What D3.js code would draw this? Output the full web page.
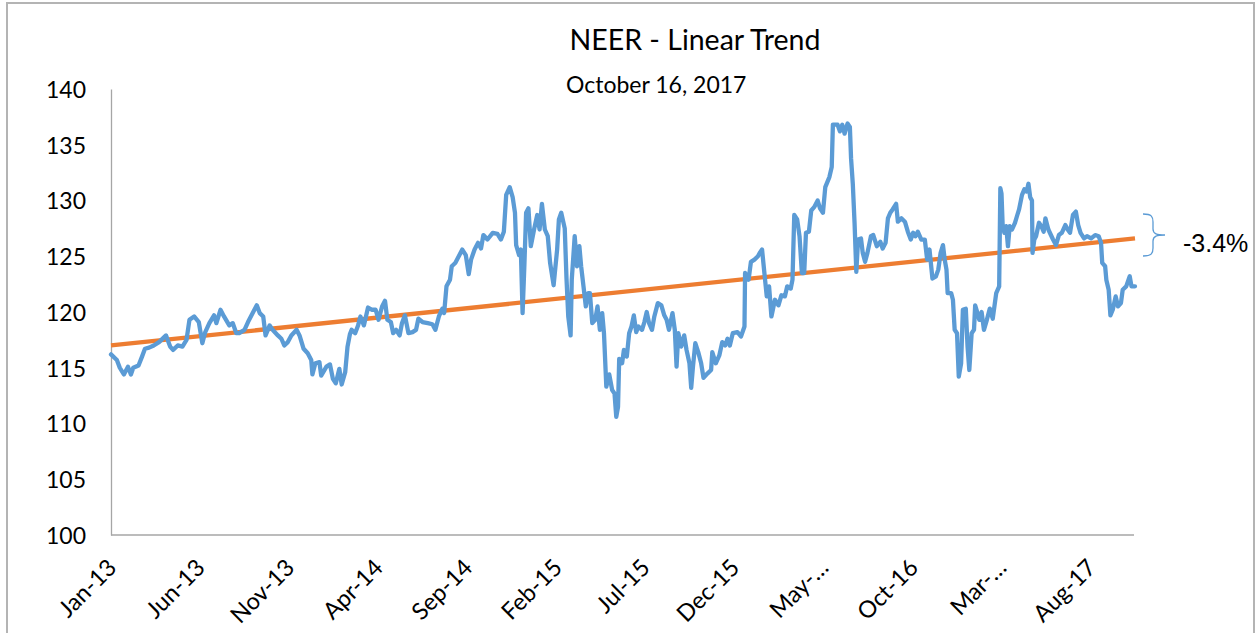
<!DOCTYPE html>
<html><head><meta charset="utf-8">
<script src="https://cdn.jsdelivr.net/npm/d3@7"></script>
<style>body{margin:0;background:#fff} svg{display:block}</style>
</head><body><svg id="chart" width="1260" height="633"></svg>
<script>
const chartTitle = "NEER - Linear Trend";
const chartSubtitle = "October 16, 2017";
const yTicks = [100, 105, 110, 115, 120, 125, 130, 135, 140];
const xTickDates = ["2013-01-01","2013-06-01","2013-11-01","2014-04-01","2014-09-01","2015-02-01","2015-07-01","2015-12-01","2016-05-01","2016-10-01","2017-03-01","2017-08-01"];
const xTickLabels = ["Jan-13","Jun-13","Nov-13","Apr-14","Sep-14","Feb-15","Jul-15","Dec-15","May-…","Oct-16","Mar-…","Aug-17"];

const dates = [
"2013-01-01","2013-01-11","2013-01-16","2013-01-23","2013-01-30","2013-02-04","2013-02-08","2013-02-17","2013-02-23","2013-02-28",
"2013-03-07","2013-03-15","2013-03-24","2013-04-05","2013-04-12","2013-04-17","2013-04-25","2013-05-03","2013-05-10","2013-05-15",
"2013-05-23","2013-05-31","2013-06-06","2013-06-11","2013-06-18","2013-06-26","2013-06-30","2013-07-07","2013-07-13","2013-07-22",
"2013-07-28","2013-08-03","2013-08-08","2013-08-17","2013-08-23","2013-08-31","2013-09-07","2013-09-12","2013-09-18","2013-09-22",
"2013-09-29","2013-10-04","2013-10-13","2013-10-19","2013-10-24","2013-10-30","2013-11-05","2013-11-14","2013-11-19","2013-11-26",
"2013-12-03","2013-12-09","2013-12-11","2013-12-16","2013-12-23","2013-12-26","2014-01-04","2014-01-10","2014-01-15","2014-01-20",
"2014-01-26","2014-01-30","2014-02-05","2014-02-09","2014-02-13","2014-02-16","2014-02-22","2014-02-27","2014-03-03","2014-03-09",
"2014-03-16","2014-03-23","2014-03-29","2014-04-03","2014-04-09","2014-04-14","2014-04-18","2014-04-24","2014-04-28","2014-05-03",
"2014-05-09","2014-05-13","2014-05-18","2014-05-24","2014-05-31","2014-06-06","2014-06-10","2014-06-17","2014-06-26","2014-07-04",
"2014-07-09","2014-07-15","2014-07-21","2014-07-24","2014-07-28","2014-08-03","2014-08-06","2014-08-12","2014-08-16","2014-08-24",
"2014-08-30","2014-09-04","2014-09-08","2014-09-14","2014-09-20","2014-09-25","2014-09-29","2014-10-06","2014-10-15","2014-10-23",
"2014-10-29","2014-11-03","2014-11-07","2014-11-13","2014-11-18","2014-11-22","2014-11-24","2014-11-29","2014-12-02","2014-12-05",
"2014-12-08","2014-12-11","2014-12-15","2014-12-19","2014-12-25","2014-12-30","2015-01-03","2015-01-07","2015-01-12","2015-01-17",
"2015-01-21","2015-01-27","2015-02-02","2015-02-05","2015-02-09","2015-02-15","2015-02-18","2015-02-21","2015-02-25","2015-02-27",
"2015-03-04","2015-03-08","2015-03-12","2015-03-15","2015-03-19","2015-03-23","2015-03-27","2015-03-30","2015-04-03","2015-04-08",
"2015-04-12","2015-04-16","2015-04-20","2015-04-23","2015-04-27","2015-05-02","2015-05-07","2015-05-11","2015-05-14","2015-05-17",
"2015-05-19","2015-05-24","2015-05-27","2015-06-01","2015-06-05","2015-06-09","2015-06-13","2015-06-17","2015-06-21","2015-06-27",
"2015-07-01","2015-07-05","2015-07-09","2015-07-14","2015-07-18","2015-07-24","2015-07-30","2015-08-04","2015-08-08","2015-08-12",
"2015-08-18","2015-08-22","2015-08-25","2015-08-28","2015-09-02","2015-09-07","2015-09-11","2015-09-16","2015-09-19","2015-09-22",
"2015-09-26","2015-10-01","2015-10-06","2015-10-10","2015-10-17","2015-10-23","2015-10-25","2015-10-31","2015-11-06","2015-11-11",
"2015-11-16","2015-11-20","2015-11-24","2015-11-29","2015-12-07","2015-12-13","2015-12-19","2015-12-20","2015-12-26","2015-12-30",
"2016-01-05","2016-01-11","2016-01-14","2016-01-18","2016-01-22","2016-01-26","2016-01-30","2016-02-03","2016-02-09","2016-02-15",
"2016-02-20","2016-02-26","2016-03-01","2016-03-07","2016-03-10","2016-03-13","2016-03-18","2016-03-22","2016-03-26","2016-03-30",
"2016-04-02","2016-04-07","2016-04-11","2016-04-16","2016-04-22","2016-04-26","2016-05-01","2016-05-05","2016-05-12","2016-05-16",
"2016-05-18","2016-05-26","2016-05-30","2016-06-03","2016-06-07","2016-06-12","2016-06-16","2016-06-18","2016-06-21","2016-06-24",
"2016-06-27","2016-06-30","2016-07-05","2016-07-08","2016-07-12","2016-07-16","2016-07-22","2016-07-26","2016-08-01","2016-08-07",
"2016-08-11","2016-08-16","2016-08-20","2016-08-24","2016-08-28","2016-09-03","2016-09-06","2016-09-12","2016-09-18","2016-09-23",
"2016-09-28","2016-10-02","2016-10-06","2016-10-10","2016-10-16","2016-10-22","2016-10-26","2016-10-30","2016-11-04","2016-11-10",
"2016-11-14","2016-11-18","2016-11-22","2016-11-25","2016-11-28","2016-11-30","2016-12-06","2016-12-09","2016-12-12","2016-12-16",
"2016-12-19","2016-12-23","2016-12-26","2016-12-31","2017-01-03","2017-01-06","2017-01-10","2017-01-14","2017-01-16","2017-01-20",
"2017-01-23","2017-01-27","2017-01-31","2017-02-05","2017-02-10","2017-02-15","2017-02-21","2017-02-26","2017-02-28","2017-03-02",
"2017-03-04","2017-03-07","2017-03-10","2017-03-13","2017-03-16","2017-03-20","2017-03-25","2017-03-29","2017-04-01","2017-04-06",
"2017-04-10","2017-04-14","2017-04-17","2017-04-20","2017-04-23","2017-04-24","2017-04-27","2017-04-30","2017-05-05","2017-05-09",
"2017-05-13","2017-05-16","2017-05-21","2017-05-29","2017-06-03","2017-06-08","2017-06-13","2017-06-19","2017-06-23","2017-06-27",
"2017-07-02","2017-07-07","2017-07-11","2017-07-15","2017-07-21","2017-07-26","2017-08-02","2017-08-09","2017-08-15","2017-08-19",
"2017-08-21","2017-08-26","2017-08-28","2017-09-01","2017-09-04","2017-09-08","2017-09-13","2017-09-17","2017-09-22","2017-09-25",
"2017-10-01","2017-10-07","2017-10-10","2017-10-16"
];

const neer = [
116.2,115.7,115.0,114.4,115.1,114.4,115.0,115.2,116.0,116.7,
116.8,117.0,117.3,117.9,116.9,116.6,117.0,116.9,117.5,119.3,
119.6,119.1,117.2,118.2,119.0,119.7,119.0,120.2,119.6,118.8,
119.0,118.1,118.1,118.4,119.1,119.9,120.6,119.9,119.6,117.9,
118.8,118.4,117.9,117.6,117.0,117.3,117.9,118.4,117.9,116.7,
116.3,115.7,114.4,115.4,115.5,114.3,115.1,115.3,114.0,113.6,
114.9,113.5,114.6,116.9,118.0,118.4,118.1,118.8,119.6,118.8,
120.4,120.2,120.2,119.3,120.5,121.0,119.3,119.1,118.1,118.4,
117.9,119.0,119.7,118.1,118.2,118.4,119.4,119.1,119.0,118.9,
118.4,119.6,120.3,119.9,122.3,122.9,124.1,124.4,124.8,125.6,
125.1,123.4,124.7,125.6,126.2,125.7,126.9,126.5,127.1,127.0,
126.5,127.2,130.5,131.2,130.3,128.9,126.0,125.1,125.6,119.9,
124.1,128.9,129.3,125.9,127.5,128.7,127.4,129.7,127.4,126.8,
124.4,122.4,125.6,128.3,128.9,127.5,123.0,119.6,117.9,122.9,
126.8,124.1,125.9,124.1,122.3,120.5,121.7,121.7,119.0,119.3,
120.5,118.4,119.9,118.1,113.3,114.4,113.0,112.7,110.6,111.5,
115.8,115.4,116.6,116.0,118.1,118.7,119.7,118.2,118.7,118.4,
119.1,120.0,119.0,118.4,119.6,120.8,120.6,119.7,119.3,118.4,
119.9,118.4,115.1,118.1,116.9,117.9,116.6,115.4,113.2,115.1,
117.2,116.4,115.4,114.1,114.5,114.8,116.4,115.4,116.1,117.3,
117.0,117.6,117.0,118.1,118.2,117.8,118.7,123.5,122.9,124.5,
124.7,125.0,125.3,125.6,123.5,121.4,122.3,119.6,121.1,120.6,
121.5,121.4,122.3,122.1,122.9,128.7,128.3,126.8,123.5,123.5,
127.1,127.2,129.1,129.4,130.0,129.3,128.9,131.2,132.1,133.0,
136.8,136.8,136.2,136.8,136.0,136.9,136.6,133.8,131.5,128.0,
123.6,126.5,126.6,125.3,124.5,125.3,126.8,126.9,125.9,126.3,
125.7,126.2,128.4,128.9,129.2,129.7,128.1,128.4,128.1,127.2,
126.5,127.1,126.8,127.2,126.5,126.5,124.7,125.6,123.0,123.2,
123.8,125.3,126.0,124.7,123.8,121.7,121.7,121.1,118.4,118.1,
114.2,115.4,120.2,120.3,116.9,114.8,118.1,118.4,120.6,119.9,
119.3,120.0,118.4,119.3,120.3,119.4,121.7,122.3,131.1,130.6,
127.7,127.1,127.7,125.9,127.7,127.4,128.0,128.7,129.2,130.5,
131.0,130.8,131.5,130.3,130.0,125.3,126.5,126.8,128.0,127.7,
127.2,128.4,127.4,126.5,126.0,126.9,127.1,127.8,127.4,127.1,
128.7,129.0,127.8,127.1,126.6,126.8,126.6,126.9,126.8,126.2,
124.4,124.1,122.9,122.0,119.7,120.2,121.4,120.5,120.8,122.0,
122.3,123.2,122.3,122.3
];

const trendDates = ["2013-01-01", "2017-10-16"];
const trendValues = [117.0, 126.6];
const gapLabel = "-3.4%";

const parse = d3.timeParse("%Y-%m-%d");
const svg = d3.select("#chart");
const plotLeft = 111, plotRight = 1135, plotTop = 89, plotBottom = 535;

const x = d3.scaleTime().domain([parse(dates[0]), parse(dates[dates.length - 1])]).range([plotLeft, plotRight]);
const y = d3.scaleLinear().domain([100, 140]).range([plotBottom, plotTop]);

// outer frame
svg.append("rect").attr("x", 7).attr("y", 3).attr("width", 1247).attr("height", 650)
  .attr("fill", "none").attr("stroke", "#b4b4b4").attr("stroke-width", 2);

// title
svg.append("text").attr("x", 695).attr("y", 50).attr("text-anchor", "middle")
  .style("font-family", "Lato, 'Open Sans', sans-serif").style("font-size", "28.5px").attr("fill", "#000")
  .text(chartTitle);
svg.append("text").attr("x", 566).attr("y", 93)
  .style("font-family", "Lato, 'Open Sans', sans-serif").style("font-size", "23px").attr("fill", "#000")
  .text(chartSubtitle);

// y axis
const yAxis = d3.axisLeft(y).tickValues(yTicks).tickSize(0).tickPadding(25).tickFormat(d3.format("d"));
const gy = svg.append("g").attr("transform", `translate(${plotLeft},0)`).call(yAxis);
gy.select(".domain").attr("stroke", "#a6a6a6").attr("stroke-width", 1.3);
gy.selectAll("text").style("font-family", "Lato, 'Open Sans', sans-serif").style("font-size", "23px").attr("fill", "#000")
  .attr("dy", "0.36em");

// x axis line
svg.append("line").attr("x1", plotLeft).attr("x2", plotRight - 1).attr("y1", plotBottom).attr("y2", plotBottom)
  .attr("stroke", "#a6a6a6").attr("stroke-width", 1.5);

// x tick labels
svg.append("g").selectAll("text").data(xTickDates).join("text")
  .attr("transform", (d) => `translate(${x(parse(d)) + 7},569) rotate(-45)`)
  .attr("text-anchor", "end")
  .style("font-family", "Lato, 'Open Sans', sans-serif").style("font-size", "23.5px").attr("fill", "#000")
  .text((d, i) => xTickLabels[i]);

// trend
const trendData = trendDates.map((d, i) => ({ date: parse(d), v: trendValues[i] }));
svg.append("path").datum(trendData)
  .attr("d", d3.line().x(d => x(d.date)).y(d => y(d.v)))
  .attr("fill", "none").attr("stroke", "#ed7d31").attr("stroke-width", 4.3);

// NEER
const series = dates.map((d, i) => ({ date: parse(d), v: neer[i] }));
svg.append("path").datum(series)
  .attr("d", d3.line().x(d => x(d.date)).y(d => y(d.v)))
  .attr("fill", "none").attr("stroke", "#5b9bd5").attr("stroke-width", 4.3)
  .attr("stroke-linejoin", "round").attr("stroke-linecap", "round");

// brace annotation
const bx = 1143, bTop = 214, bBot = 256, bMid = (bTop + bBot) / 2;
svg.append("path")
  .attr("d", `M${bx},${bTop} C${bx + 9},${bTop} ${bx + 10},${bTop + 3} ${bx + 10},${bTop + 8} L${bx + 10},${bMid - 6} C${bx + 10},${bMid - 1} ${bx + 14},${bMid} ${bx + 22},${bMid} C${bx + 14},${bMid} ${bx + 10},${bMid + 1} ${bx + 10},${bMid + 6} L${bx + 10},${bBot - 8} C${bx + 10},${bBot - 3} ${bx + 9},${bBot} ${bx},${bBot}`)
  .attr("fill", "none").attr("stroke", "#5b9bd5").attr("stroke-width", 1.3);
svg.append("text").attr("x", 1183).attr("y", 252)
  .style("font-family", "'Liberation Sans', Arial, sans-serif").style("font-size", "25px").attr("fill", "#000")
  .text(gapLabel);
</script>
</body></html>
